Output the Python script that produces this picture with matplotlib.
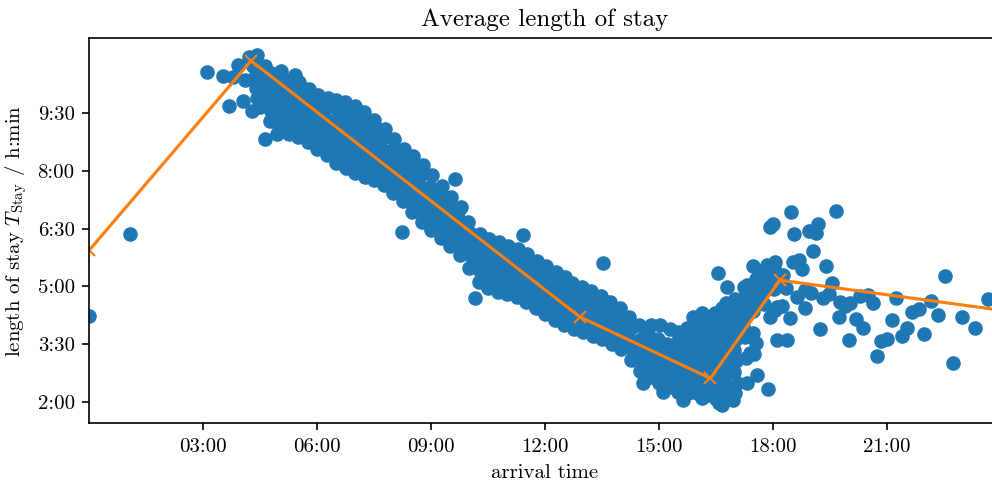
import numpy as np
import matplotlib
matplotlib.use("Agg")
import matplotlib.pyplot as plt

plt.rcParams['font.family'] = ['cmr10']
plt.rcParams['mathtext.fontset'] = 'cm'
plt.rcParams['axes.unicode_minus'] = False

# arrival time (h) , length of stay (h)
early = [(0.00, 4.23), (1.07, 6.35), (3.10, 10.57), (3.51, 10.47), (3.92, 10.75),
         (4.21, 10.95), (4.42, 11.00), (3.79, 10.44), (4.10, 10.36), (3.68, 9.68),
         (4.05, 9.82), (4.28, 9.55), (4.62, 8.84), (4.95, 8.95), (5.04, 10.60),
         (5.41, 10.50), (4.62, 10.72), (4.30, 10.72), (4.36, 10.45), (4.40, 10.15),
         (4.42, 9.90)]

morning = [
    (4.50, 9.65), (4.54, 9.90), (4.47, 10.15), (4.52, 10.42), (4.46, 10.68),
    (4.75, 9.30), (4.79, 9.55), (4.72, 9.80), (4.77, 10.05), (4.71, 10.30), (4.78, 10.55),
    (5.00, 9.05), (5.04, 9.33), (4.97, 9.61), (5.02, 9.89), (4.96, 10.17), (5.03, 10.43),
    (5.25, 8.97), (5.29, 9.25), (5.22, 9.53), (5.27, 9.81), (5.21, 10.09), (5.28, 10.37),
    (5.50, 8.88), (5.54, 9.16), (5.47, 9.44), (5.52, 9.72), (5.46, 10.00), (5.53, 10.30),
    (5.75, 8.74), (5.79, 9.02), (5.72, 9.30), (5.77, 9.58), (5.71, 9.86), (5.78, 10.13),
    (6.00, 8.58), (6.04, 8.86), (5.97, 9.14), (6.02, 9.42), (5.96, 9.70), (6.03, 9.96),
    (6.25, 8.40), (6.29, 8.70), (6.22, 9.00), (6.27, 9.30), (6.21, 9.60), (6.28, 9.88),
    (6.50, 8.20), (6.54, 8.48), (6.47, 8.76), (6.52, 9.04), (6.46, 9.32), (6.53, 9.60), (6.49, 9.85),
    (6.75, 8.07), (6.79, 8.35), (6.72, 8.63), (6.77, 8.91), (6.71, 9.19), (6.78, 9.47), (6.74, 9.78),
    (7.00, 7.95), (7.04, 8.23), (6.97, 8.51), (7.02, 8.79), (6.96, 9.07), (7.03, 9.35), (6.99, 9.68),
    (7.25, 7.85), (7.29, 8.13), (7.22, 8.41), (7.27, 8.69), (7.21, 8.97), (7.28, 9.25), (7.24, 9.53),
    (7.50, 7.75), (7.54, 8.03), (7.47, 8.31), (7.52, 8.59), (7.46, 8.87), (7.53, 9.15), (7.49, 9.33),
    (7.75, 7.62), (7.79, 7.92), (7.72, 8.22), (7.77, 8.52), (7.71, 8.82), (7.78, 9.10),
    (8.00, 7.42), (8.04, 7.70), (7.97, 7.98), (8.02, 8.26), (7.96, 8.54), (8.03, 8.83),
    (8.25, 7.22), (8.29, 7.50), (8.22, 7.78), (8.27, 8.06), (8.21, 8.34), (8.28, 8.56),
    (8.50, 6.92), (8.54, 7.22), (8.47, 7.52), (8.52, 7.82), (8.46, 8.10), (8.53, 8.38),
    (8.75, 6.66), (8.79, 6.96), (8.72, 7.26), (8.77, 7.56), (8.71, 7.86), (8.78, 8.16),
    (9.00, 6.46), (9.04, 6.74), (8.97, 7.02), (9.02, 7.30), (8.96, 7.58), (9.03, 7.88),
    (9.25, 6.25), (9.29, 6.53), (9.22, 6.81), (9.27, 7.09), (9.21, 7.37), (9.28, 7.60),
    (9.50, 6.04), (9.54, 6.32), (9.47, 6.60), (9.52, 6.88), (9.46, 7.16), (9.53, 7.33),
    (9.75, 5.82), (9.79, 6.10), (9.72, 6.38), (9.77, 6.66), (9.71, 6.94), (9.78, 7.06),
]

midday = [
    (10.00, 5.47), (10.04, 5.78), (9.97, 6.08), (10.02, 6.38), (9.96, 6.68),
    (10.25, 5.12), (10.29, 5.40), (10.22, 5.68), (10.27, 5.96), (10.21, 6.24), (10.28, 6.36),
    (10.50, 4.97), (10.54, 5.25), (10.47, 5.53), (10.52, 5.81), (10.46, 6.09), (10.53, 6.23),
    (10.75, 4.86), (10.79, 5.14), (10.72, 5.42), (10.77, 5.70), (10.71, 5.98), (10.78, 6.14),
    (11.00, 4.79), (11.04, 5.07), (10.97, 5.35), (11.02, 5.63), (10.96, 5.91), (11.03, 6.05),
    (11.25, 4.72), (11.29, 5.00), (11.22, 5.28), (11.27, 5.56), (11.21, 5.84), (11.28, 5.96),
    (11.50, 4.60), (11.54, 4.88), (11.47, 5.16), (11.52, 5.44), (11.46, 5.72), (11.53, 5.83),
    (11.75, 4.43), (11.79, 4.71), (11.72, 4.99), (11.77, 5.27), (11.71, 5.55), (11.78, 5.67),
    (12.00, 4.28), (12.04, 4.56), (11.97, 4.84), (12.02, 5.12), (11.96, 5.40), (12.03, 5.52),
    (12.25, 4.13), (12.29, 4.41), (12.22, 4.69), (12.27, 4.97), (12.21, 5.25), (12.28, 5.36),
    (12.50, 4.00), (12.54, 4.28), (12.47, 4.56), (12.52, 4.84), (12.46, 5.12), (12.53, 5.23),
    (12.75, 3.90), (12.79, 4.18), (12.72, 4.46), (12.77, 4.74), (12.71, 5.10),
    (13.00, 3.81), (13.04, 4.09), (12.97, 4.37), (13.02, 4.65), (12.96, 4.98),
    (13.25, 3.72), (13.29, 4.00), (13.22, 4.28), (13.27, 4.56), (13.21, 4.88),
    (13.50, 3.64), (13.54, 3.92), (13.47, 4.20), (13.52, 4.48), (13.46, 4.76),
    (13.75, 3.51), (13.79, 3.79), (13.72, 4.07), (13.77, 4.35), (13.71, 4.60),
    (9.62, 7.80), (8.23, 6.41), (10.15, 4.69), (11.42, 6.33), (13.52, 5.60),
]

afternoon = [
    (14.00, 3.38), (14.04, 3.66), (13.97, 3.94), (14.02, 4.22), (13.96, 4.43),
    (14.25, 3.08), (14.29, 3.36), (14.22, 3.64), (14.27, 3.92), (14.21, 4.21),
    (14.50, 2.80), (14.54, 3.08), (14.47, 3.36), (14.52, 3.64), (14.46, 3.99),
    (14.75, 2.65), (14.79, 2.93), (14.72, 3.21), (14.77, 3.49), (14.71, 3.77), (14.78, 3.99),
    (15.00, 2.50), (15.04, 2.78), (14.97, 3.06), (15.02, 3.34), (14.96, 3.62), (15.03, 3.99),
    (15.25, 2.38), (15.29, 2.66), (15.22, 2.94), (15.27, 3.22), (15.21, 3.50), (15.28, 3.90),
    (15.50, 2.25), (15.54, 2.53), (15.47, 2.81), (15.52, 3.09), (15.46, 3.37), (15.53, 3.65), (15.49, 3.81),
    (15.75, 2.23), (15.79, 2.51), (15.72, 2.79), (15.77, 3.07), (15.71, 3.35), (15.78, 3.63), (15.74, 3.93),
    (16.00, 2.23), (16.04, 2.51), (15.97, 2.79), (16.02, 3.07), (15.96, 3.35), (16.03, 3.63), (15.99, 3.91),
    (16.05, 4.08),
    (16.25, 2.17), (16.29, 2.45), (16.22, 2.73), (16.27, 3.01), (16.21, 3.29), (16.28, 3.57), (16.24, 3.85),
    (16.30, 4.13),
    (16.50, 2.08), (16.54, 2.36), (16.47, 2.64), (16.52, 2.92), (16.46, 3.20), (16.53, 3.48), (16.49, 3.76),
    (16.55, 4.04), (16.48, 4.32),
    (16.75, 2.12), (16.79, 2.40), (16.72, 2.68), (16.77, 2.96), (16.71, 3.24), (16.78, 3.52), (16.74, 3.80),
    (16.80, 4.08), (16.73, 4.36), (16.76, 4.58),
    (17.00, 2.22), (17.04, 2.50), (16.97, 2.78), (17.02, 3.06), (16.96, 3.34), (17.03, 3.62), (16.99, 3.90),
    (17.05, 4.18), (16.98, 4.46), (17.01, 4.68),
    (17.29, 3.13), (17.27, 3.69), (17.21, 3.97), (17.28, 4.25), (17.24, 4.53),
    (17.30, 4.81), (17.23, 4.98),
    (17.50, 3.24), (17.54, 3.52), (17.47, 3.80), (17.46, 4.36), (17.53, 4.64), (17.49, 4.92),
    (17.55, 5.20),
    (17.77, 4.54), (17.71, 4.82), (17.78, 5.10), (17.74, 5.38),
    (18.04, 4.38), (18.02, 4.94), (17.96, 5.22), (18.03, 5.48),
]

evening = [
    (16.55, 5.34), (16.80, 4.98), (17.31, 5.03), (17.46, 5.52), (17.83, 5.55), (18.04, 5.64),
    (16.65, 4.43), (16.91, 4.20), (17.07, 4.59), (17.31, 4.69), (17.65, 4.98), (17.86, 5.21),
    (17.65, 4.64), (18.10, 4.46), (18.23, 4.49), (17.91, 4.20), (15.89, 4.20), (16.12, 4.30),
    (16.41, 4.12), (17.57, 2.69), (17.88, 2.33), (18.10, 3.60), (18.36, 3.60), (18.44, 4.17),
    (17.39, 3.26), (17.31, 2.49), (15.62, 2.04), (16.65, 1.91), (16.94, 2.04), (16.59, 1.97),
    (16.12, 2.10), (15.10, 2.25), (14.57, 2.49), (17.69, 4.97), (18.25, 5.29), (18.22, 5.16),
    (18.48, 6.94), (19.65, 6.96), (17.99, 6.63), (17.93, 6.53), (18.54, 6.36), (18.95, 6.44),
    (19.18, 6.62), (19.12, 6.39), (19.05, 5.92), (19.39, 5.52), (18.53, 5.64), (18.68, 5.68),
    (18.75, 5.46), (18.35, 4.95), (18.62, 4.73), (18.83, 4.90), (19.01, 4.82), (19.32, 4.69),
    (19.54, 5.08), (19.47, 4.80), (18.83, 4.43), (19.25, 3.88), (19.76, 4.60), (19.89, 4.49),
    (20.02, 4.57), (19.73, 4.21), (19.99, 3.60), (20.18, 4.16), (20.37, 3.93), (20.28, 4.75),
    (20.50, 4.77), (20.62, 4.58), (20.75, 3.19), (20.85, 3.58), (21.00, 3.64), (21.12, 4.13),
    (21.25, 4.71), (21.40, 3.70), (21.54, 3.93), (21.67, 4.34), (21.84, 4.41), (21.98, 3.75),
    (22.16, 4.63), (22.34, 4.25), (22.52, 5.26), (22.75, 3.01), (22.98, 4.21), (23.31, 3.91),
    (23.67, 4.66),
]

# piecewise linear fit (breakpoints)
fit_t = [0.0, 4.26, 12.91, 16.35, 18.18, 24.0]
fit_stay = [5.94, 10.86, 4.21, 2.61, 5.16, 4.38]

ytick_vals = [2.0, 3.5, 5.0, 6.5, 8.0, 9.5]
ytick_labels = ["2:00", "3:30", "5:00", "6:30", "8:00", "9:30"]
xtick_vals = [3, 6, 9, 12, 15, 18, 21]
xtick_labels = ["03:00", "06:00", "09:00", "12:00", "15:00", "18:00", "21:00"]

pts = np.array(early + morning + midday + afternoon + evening)

fig = plt.figure(figsize=(992 / 150, 483 / 150), dpi=150)
ax = fig.add_axes([0.090, 0.1242, 0.919, 0.797])

ax.scatter(pts[:, 0], pts[:, 1], s=36, color="C0")
ax.plot(fit_t, fit_stay, color="C1", marker="x", lw=1.5)

ax.set_xlim(0, 24)
ax.set_ylim(1.45, 11.45)
ax.set_xticks(xtick_vals)
ax.set_xticklabels(xtick_labels)
ax.set_yticks(ytick_vals)
ax.set_yticklabels(ytick_labels)

ax.set_title("Average length of stay", fontsize=12)
ax.set_xlabel("arrival time")
ax.set_ylabel(r"length of stay $T_\mathrm{Stay}$ / h:min")

fig.savefig("out.png", dpi=150)
